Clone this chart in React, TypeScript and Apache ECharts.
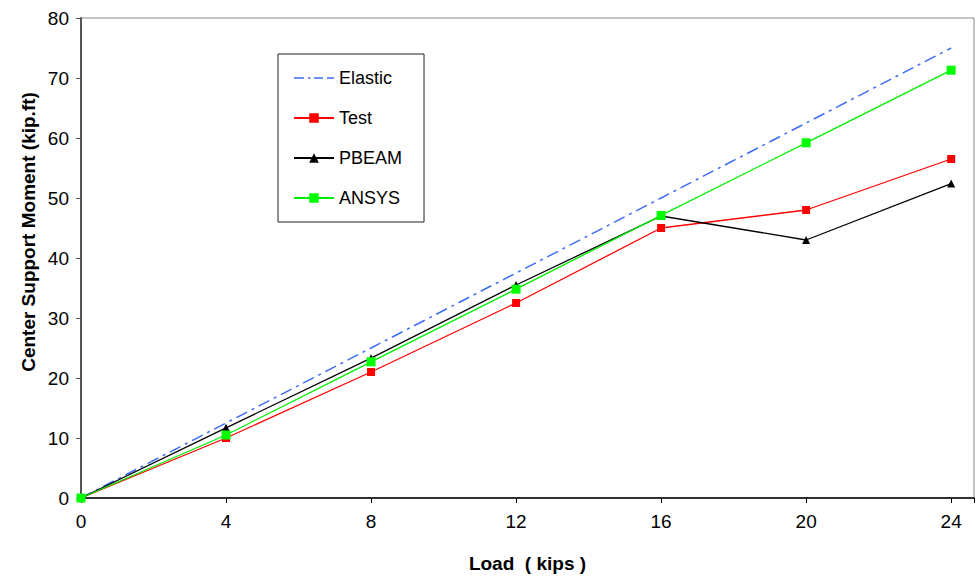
import React, { useEffect, useRef } from "react";
import * as echarts from "echarts";

const loads = [0, 4, 8, 12, 16, 20, 24];
const elastic = [0, 12.5, 25, 37.5, 50, 62.5, 75];
const test = [0, 10, 21, 32.5, 45, 48, 56.5];
const pbeam = [0, 11.7, 23.3, 35.5, 47, 43, 52.4];
const ansys = [0, 10.5, 22.7, 34.8, 47.1, 59.2, 71.3];

const pairs = (ys: number[]) => loads.map((x, i) => [x, ys[i]]);

const dashDotIcon =
  "path://M0 0h0.01v0.01h-0.01z M39.99 11.99h0.01v0.01h-0.01z M0 5.2h10v1.6h-10z M14 5.2h2.5v1.6h-2.5z M20 5.2h9v1.6h-9z M33 5.2h7v1.6h-7z";

export default function App() {
  const ref = useRef<HTMLDivElement>(null);
  useEffect(() => {
    const chart = echarts.init(ref.current!, null, { renderer: "svg" });
    const font = "Arial, 'Liberation Sans', sans-serif";
    chart.setOption({
      animation: false,
      backgroundColor: "#ffffff",
      textStyle: { fontFamily: font },
      grid: {
        left: 81,
        top: 18,
        bottom: 81,
        right: 0,
        show: true,
        borderColor: "#888888",
        borderWidth: 1,
        backgroundColor: "transparent",
      },
      legend: {
        orient: "vertical",
        left: 278,
        top: 54,
        data: [
          { name: "Elastic", icon: dashDotIcon },
          "Test",
          "PBEAM",
          "ANSYS",
        ],
        itemWidth: 40,
        itemHeight: 12,
        itemGap: 22,
        padding: [15, 22, 15, 15],
        borderColor: "#222222",
        borderWidth: 1,
        textStyle: { fontSize: 18, color: "#000", fontFamily: font },
      },
      xAxis: {
        type: "value",
        min: 0,
        max: 24.63,
        interval: 4,
        name: "Load  ( kips )",
        nameLocation: "middle",
        nameGap: 56,
        nameTextStyle: { fontSize: 19, fontWeight: "bold", color: "#000", fontFamily: font },
        axisLine: { lineStyle: { color: "#000", width: 1.5 } },
        axisTick: { show: true, inside: false, length: 5, lineStyle: { color: "#000" } },
        axisLabel: {
          fontSize: 19,
          color: "#000",
          margin: 14,
          fontFamily: font,
          formatter: (v: number) => (v % 4 === 0 ? String(v) : ""),
        },
        splitLine: { show: false },
      },
      yAxis: {
        type: "value",
        min: 0,
        max: 80,
        interval: 10,
        axisLine: { show: true, lineStyle: { color: "#555555", width: 2 } },
        axisTick: { show: true, inside: false, length: 5, lineStyle: { color: "#555555" } },
        axisLabel: { fontSize: 19, color: "#000", margin: 12 },
        splitLine: { show: false },
      },
      graphic: [
        {
          type: "text",
          x: 28,
          y: 232,
          rotation: Math.PI / 2,
          style: {
            text: "Center Support Moment (kip.ft)",
            fontSize: 19,
            fontWeight: "bold",
            fontFamily: font,
            fill: "#000",
            textAlign: "center",
            textVerticalAlign: "middle",
          },
        },
      ],
      series: [
        {
          name: "Elastic",
          type: "line",
          data: pairs(elastic),
          symbol: "none",
          lineStyle: { color: "#3d6cf5", width: 1.5, type: [12, 5, 3, 5] },
          itemStyle: { color: "#3d6cf5" },
          z: 1,
        },
        {
          name: "Test",
          type: "line",
          data: pairs(test),
          symbol: "rect",
          symbolSize: 8,
          lineStyle: { color: "#ff0000", width: 1.3 },
          itemStyle: { color: "#ff0000" },
          z: 2,
        },
        {
          name: "PBEAM",
          type: "line",
          data: pairs(pbeam),
          symbol: "triangle",
          symbolSize: 8,
          lineStyle: { color: "#000000", width: 1.3 },
          itemStyle: { color: "#000000" },
          z: 3,
        },
        {
          name: "ANSYS",
          type: "line",
          data: pairs(ansys),
          symbol: "rect",
          symbolSize: 9,
          lineStyle: { color: "#00ee00", width: 1.3 },
          itemStyle: { color: "#00ff00" },
          z: 4,
        },
      ],
    });
    return () => chart.dispose();
  }, []);
  return (
    <div style={{ position: "fixed", left: 0, top: 0, width: 977, height: 579, overflow: "hidden", background: "#fff" }}>
      <div ref={ref} style={{ width: 977, height: 579 }} />
    </div>
  );
}
